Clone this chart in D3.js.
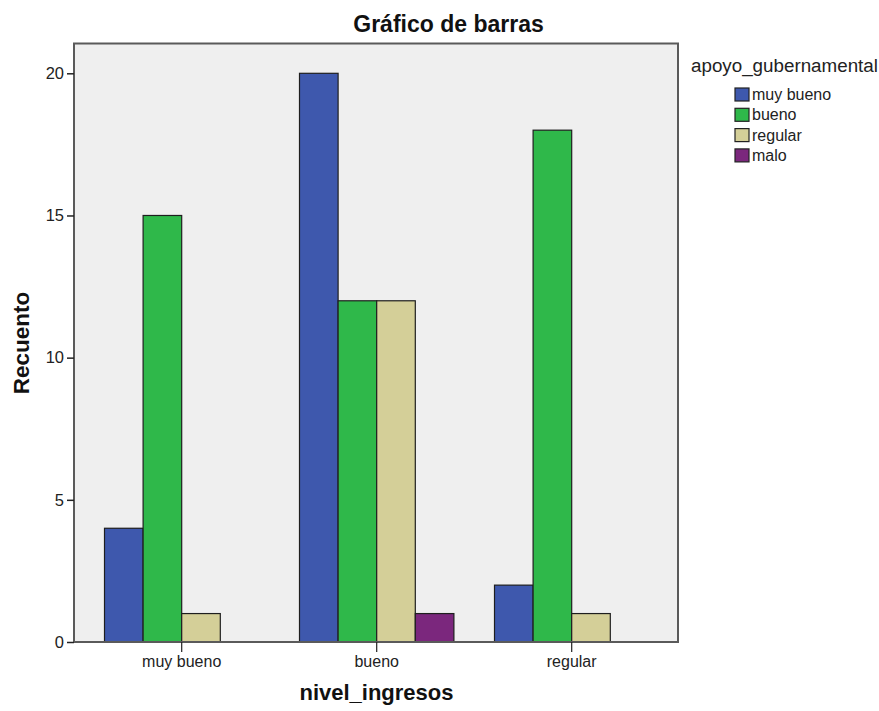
<!DOCTYPE html>
<html><head><meta charset="utf-8">
<script src="https://cdn.jsdelivr.net/npm/d3@7"></script>
<style>body{margin:0;background:#fff;} svg{display:block;font-family:"Liberation Sans",Arial,sans-serif;}</style>
</head><body><svg id="c" width="879" height="711"></svg>
<script>
const categories = ["muy bueno","bueno","regular"];
const seriesNames = ["muy bueno","bueno","regular","malo"];
const muyBueno = [4,20,2];
const bueno = [15,12,18];
const regular = [1,12,1];
const malo = [0,1,0];
const seriesValues = [muyBueno,bueno,regular,malo];
const colors = ["#3e58ad","#2fb84a","#d4cf98","#7b277d"];
const yTicks = [0,5,10,15,20];

const svg = d3.select("#c");
const frame = {l:74,r:678,t:43.5,b:642};
const x = d3.scaleBand().domain(categories).range([84.2,669.2]);
const y = d3.scaleLinear().domain([0,20]).range([642,73.3]);
const inner = d3.scaleBand().domain(seriesNames).range([0,154.4]);

svg.append("rect").attr("x",frame.l).attr("y",frame.t).attr("width",frame.r-frame.l).attr("height",frame.b-frame.t)
  .attr("fill","#efefef");

const groups = svg.append("g").selectAll("g").data(categories).join("g")
  .attr("transform",d=>`translate(${x(d)+x.bandwidth()/2-77.2},0)`);
groups.selectAll("rect").data((c,i)=>seriesNames.map((s,j)=>({s,j,v:seriesValues[j][i]})).filter(d=>d.v>0))
  .join("rect")
  .attr("x",d=>inner(d.s)).attr("width",inner.bandwidth())
  .attr("y",d=>y(d.v)).attr("height",d=>y(0)-y(d.v))
  .attr("fill",d=>colors[d.j]).attr("stroke","#1e1e1e").attr("stroke-width",1.2);

svg.append("rect").attr("x",frame.l).attr("y",frame.t).attr("width",frame.r-frame.l).attr("height",frame.b-frame.t)
  .attr("fill","none").attr("stroke","#5a5a5a").attr("stroke-width",2);

// y axis
const ya = svg.append("g").attr("transform",`translate(${frame.l},0)`)
  .call(d3.axisLeft(y).tickValues(yTicks).tickSize(7).tickPadding(3).tickFormat(d3.format("d")));
ya.select(".domain").remove();
ya.selectAll("line").attr("stroke","#222").attr("stroke-width",1.5);
ya.selectAll("text").attr("font-size",16.5).attr("fill","#222").attr("font-family","Liberation Sans, Arial, sans-serif");

// x axis
const xa = svg.append("g").attr("transform",`translate(0,${frame.b})`)
  .call(d3.axisBottom(x).tickSize(10).tickPadding(4));
xa.select(".domain").remove();
xa.selectAll("line").attr("stroke","#222").attr("stroke-width",1.2);
xa.selectAll("text").attr("font-size",16).attr("fill","#222").attr("font-family","Liberation Sans, Arial, sans-serif");

svg.append("text").attr("x",448.5).attr("y",32).attr("text-anchor","middle")
  .attr("font-size",23).attr("font-weight","bold").attr("fill","#111").text("Gráfico de barras");
svg.append("text").attr("transform","translate(29,343) rotate(-90)").attr("text-anchor","middle")
  .attr("font-size",22.5).attr("font-weight","bold").attr("fill","#111").text("Recuento");
svg.append("text").attr("x",376.5).attr("y",700).attr("text-anchor","middle")
  .attr("font-size",22).attr("font-weight","bold").attr("fill","#111").text("nivel_ingresos");

// legend
svg.append("text").attr("x",691).attr("y",72).attr("font-size",18.8).attr("fill","#222").text("apoyo_gubernamental");
const lg = svg.append("g").selectAll("g").data(seriesNames).join("g")
  .attr("transform",(d,i)=>`translate(735,${88+i*20.3})`);
lg.append("rect").attr("width",14).attr("height",13).attr("fill",(d,i)=>colors[i]).attr("stroke","#222").attr("stroke-width",1.2);
lg.append("text").attr("x",17).attr("y",12).attr("font-size",16).attr("fill","#222").text(d=>d);
</script></body></html>
